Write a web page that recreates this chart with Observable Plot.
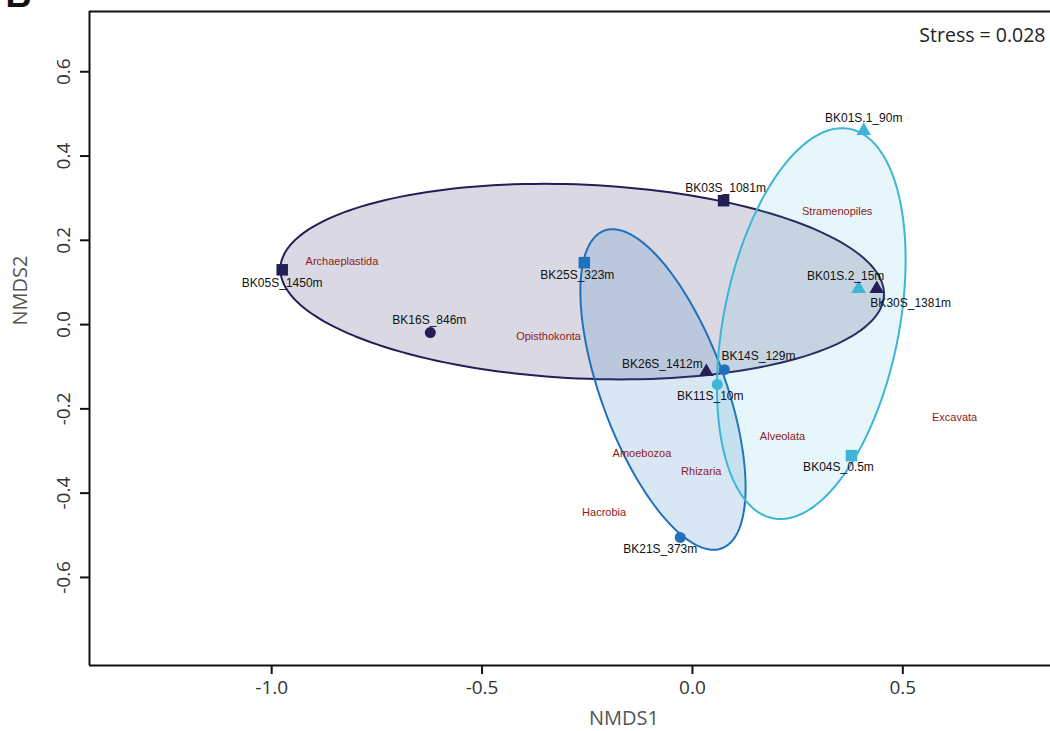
<!DOCTYPE html>
<html><head><meta charset="utf-8">
<script src="https://cdn.jsdelivr.net/npm/d3@7"></script>
<script src="https://cdn.jsdelivr.net/npm/@observablehq/plot@0.6"></script>
<style>body{margin:0;background:#fff}#chart svg{display:block}</style>
</head><body><div id="chart"></div>
<script>
// ---- data ----
const samples = ["BK05S_1450m","BK16S_846m","BK03S_1081m","BK30S_1381m","BK26S_1412m","BK25S_323m","BK14S_129m","BK21S_373m","BK01S.1_90m","BK01S.2_15m","BK11S_10m","BK04S_0.5m"];
const nmds1 = [-0.975,-0.623,0.074,0.438,0.033,-0.257,0.076,-0.029,0.407,0.395,0.059,0.378];
const nmds2 = [0.130,-0.019,0.294,0.085,-0.112,0.147,-0.107,-0.505,0.460,0.085,-0.142,-0.311];
const depthGroup = ["deep","deep","deep","deep","deep","mid","mid","mid","shallow","shallow","shallow","shallow"];
const shapeGroup = ["square","circle","square","triangle","triangle","square","circle","circle","triangle","triangle","circle","square"];

const taxa = ["Archaeplastida","Opisthokonta","Stramenopiles","Alveolata","Amoebozoa","Rhizaria","Hacrobia","Excavata"];
const taxaX = [-0.833,-0.342,0.344,0.214,-0.120,0.021,-0.210,0.623];
const taxaY = [0.149,-0.029,0.269,-0.265,-0.306,-0.348,-0.447,-0.221];

const ellipseGroup = ["deep","mid","shallow"];
const ellipseCx = [-0.262,-0.070,0.2825];
const ellipseCy = [0.102,-0.154,0.0024];
const ellipseA = [0.718,0.402,0.471];
const ellipseB = [0.230,0.147,0.2086];
const ellipseAngle = [-2.6,110.35,78.8];

const xTicks = [-1.0,-0.5,0.0,0.5];
const yTicks = [-0.6,-0.4,-0.2,0.0,0.2,0.4,0.6];
const stressLabel = "Stress = 0.028";
const xTitle = "NMDS1", yTitle = "NMDS2";

// ---- layout / style ----
const groupColor = {deep:"#231f56", mid:"#1f71bb", shallow:"#3cb5d6"};
const groupFillOpacity = {deep:0.17, mid:0.17, shallow:0.12};
const shapeR = {circle:5.5, square:6.5, triangle:5.4};
const labelOffset = {
  "BK05S_1450m":[0,13], "BK16S_846m":[-1,-12], "BK03S_1081m":[2,-13], "BK30S_1381m":[34,14],
  "BK26S_1412m":[-44,-8], "BK25S_323m":[-7,13], "BK14S_129m":[34,-14], "BK21S_373m":[-20,12],
  "BK01S.1_90m":[0,-13], "BK01S.2_15m":[-13,-13], "BK11S_10m":[-7,12], "BK04S_0.5m":[-13,12]
};
const xDomain = [-1.433, 0.851], yDomain = [-0.809, 0.743];
const labelFont = "'Liberation Sans', Arial, Helvetica, sans-serif";

const points = samples.map((s,i)=>({name:s, x:nmds1[i], y:nmds2[i], group:depthGroup[i], shape:shapeGroup[i], r:shapeR[shapeGroup[i]]}));
const taxaData = taxa.map((t,i)=>({name:t, x:taxaX[i], y:taxaY[i]}));

function ellipseOutline(i){
  const th = ellipseAngle[i]*Math.PI/180, n = 180, out = [];
  for (let k=0;k<n;k++){
    const t = 2*Math.PI*k/n;
    const ex = ellipseA[i]*Math.cos(t), ey = ellipseB[i]*Math.sin(t);
    out.push({x: ellipseCx[i] + ex*Math.cos(th) - ey*Math.sin(th), y: ellipseCy[i] + ex*Math.sin(th) + ey*Math.cos(th)});
  }
  return out;
}

const ellipseMarks = ellipseGroup.map((g,i)=>Plot.line(ellipseOutline(i), {
  x:"x", y:"y", curve:"linear-closed", fill: groupColor[g], fillOpacity: groupFillOpacity[g],
  stroke: groupColor[g], strokeWidth: 2
}));

const sampleLabels = points.map(d=>Plot.text([d], {
  x:"x", y:"y", text:"name", dx: labelOffset[d.name][0], dy: labelOffset[d.name][1],
  fontSize: 12, fill:"#111", fontFamily: labelFont
}));

const chart = Plot.plot({
  width:1050, height:731,
  marginLeft:89, marginRight:0, marginTop:11, marginBottom:66,
  x:{domain:xDomain}, y:{domain:yDomain},
  color:{domain:["deep","mid","shallow"], range:[groupColor.deep, groupColor.mid, groupColor.shallow]},
  symbol:{domain:["circle","square","triangle"], range:["circle","square","triangle"]},
  r:{type:"identity"},
  style:{fontFamily:"'Open Sans', sans-serif", background:"#fff", color:"#222"},
  marks:[
    ...ellipseMarks,
    Plot.dot(points, {x:"x", y:"y", fill:"group", symbol:"shape", r:"r", stroke:"none"}),
    ...sampleLabels,
    Plot.text(taxaData, {x:"x", y:"y", text:"name", fontSize:11, fill:"#8c1c24", fontFamily: labelFont}),
    Plot.ruleX([xDomain[0]], {stroke:"#111", strokeWidth:2}),
    Plot.ruleY([yDomain[0]], {stroke:"#111", strokeWidth:2}),
    Plot.ruleY([yDomain[1]], {stroke:"#111", strokeWidth:2}),
    Plot.axisX(xTicks, {tickSize:9, tickPadding:6, fontSize:19, strokeWidth:2, stroke:"#111", fill:"#333", label:null, tickFormat:d=>d.toFixed(1)}),
    Plot.axisY(yTicks, {tickSize:9, strokeWidth:2, stroke:"#111", label:null, tickFormat:()=>""}),
    Plot.text(yTicks, {y:d=>d, text:d=>d.toFixed(1), frameAnchor:"left", rotate:-90, dx:-26, fontSize:19, fill:"#333", textAnchor:"middle", lineAnchor:"middle"}),
    Plot.text([xTitle], {text:d=>d, frameAnchor:"bottom", dx:54, dy:53, fontSize:20, fill:"#555", lineAnchor:"middle"}),
    Plot.text([yTitle], {text:d=>d, frameAnchor:"left", rotate:-90, dx:-69, dy:-13, fontSize:20, fill:"#555", lineAnchor:"middle"}),
    Plot.text([stressLabel], {text:d=>d, frameAnchor:"top-right", textAnchor:"end", lineAnchor:"middle", dx:-5, dy:24, fontSize:19.5, fill:"#222"}),
    Plot.text(["B"], {text:d=>d, frameAnchor:"top-left", textAnchor:"start", lineAnchor:"bottom", dx:-84, dy:-5, fontSize:36, fontWeight:"bold", fill:"#111", fontFamily:labelFont})
  ]
});
document.getElementById("chart").appendChild(chart);
</script>
</body></html>
